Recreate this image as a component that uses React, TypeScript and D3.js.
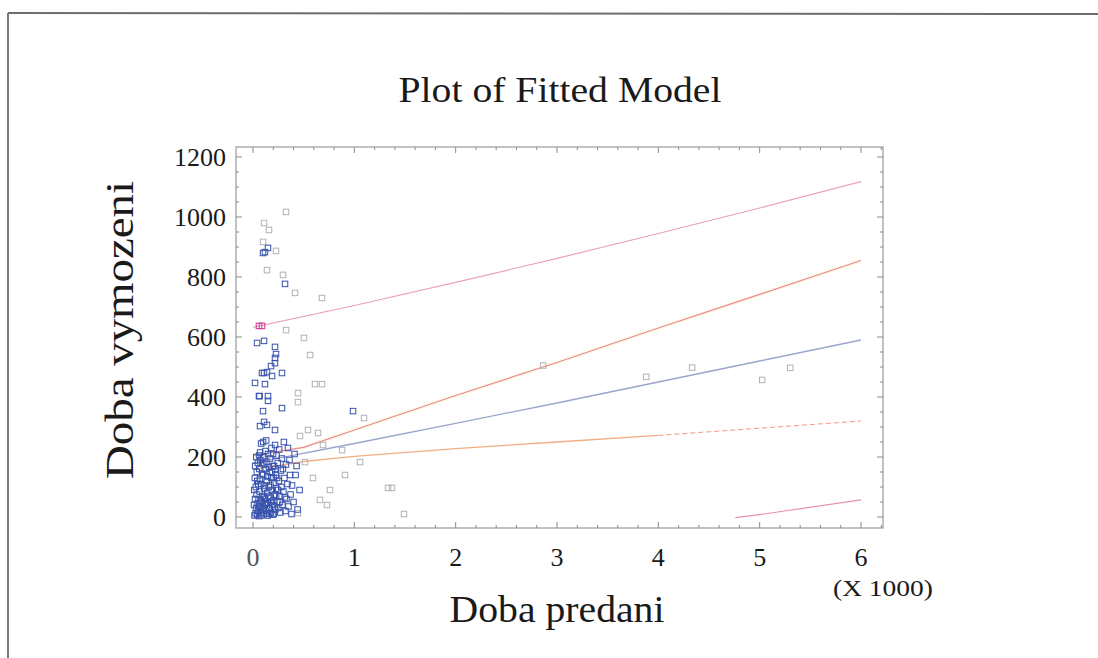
import React from "react";
import * as d3 from "d3";

// ---- data ----
const xTicks = [0, 1000, 2000, 3000, 4000, 5000, 6000];
const xTickLabels = ["0", "1", "2", "3", "4", "5", "6"];
const yTicks = [0, 200, 400, 600, 800, 1000, 1200];
const yTickLabels = ["0", "200", "400", "600", "800", "1000", "1200"];

// fitted line and limits: [Doba predani, Doba vymozeni]
const fitLine: [number, number][] = [[0, 180], [1000, 245], [2000, 312], [3000, 380], [4000, 450], [5000, 520], [6000, 590]];
const upperConf: [number, number][] = [[0, 205], [500, 232], [1000, 290], [2000, 405], [3000, 515], [4000, 630], [5000, 742], [6000, 855]];
const lowerConf: [number, number][] = [[0, 158], [500, 185], [1000, 202], [2000, 228], [3000, 250], [4000, 272], [5000, 296], [6000, 320]];
const upperPred: [number, number][] = [[0, 632], [1000, 705], [2000, 782], [3000, 862], [4000, 945], [5000, 1030], [6000, 1118]];
const lowerPred: [number, number][] = [[4760, -2], [5000, 8], [6000, 57]];

// clearly blue observations
const bluePoints: [number, number][] = [
  [40, 580], [109, 587], [217, 567], [227, 543], [217, 530], [217, 513], [178, 503],
  [89, 480], [109, 480], [138, 483], [188, 470], [286, 480], [20, 447], [118, 443],
  [59, 403], [65, 403], [148, 403], [148, 387], [99, 353], [286, 363], [987, 353],
  [109, 317], [69, 303], [138, 307], [217, 290], [148, 897], [99, 880], [118, 883], [316, 777],
  [15, 5], [25, 12], [30, 30], [40, 8], [45, 45], [50, 20], [55, 60], [60, 3], [65, 85], [70, 35],
  [75, 15], [80, 110], [85, 50], [90, 25], [95, 70], [100, 140], [105, 10], [110, 95], [115, 40],
  [120, 60], [125, 160], [130, 20], [135, 120], [140, 80], [145, 5], [150, 45], [155, 100], [160, 30],
  [165, 150], [170, 65], [175, 15], [180, 130], [185, 90], [190, 40], [195, 170], [200, 55], [205, 10],
  [210, 115], [215, 75], [220, 25], [225, 140], [230, 95], [240, 50], [245, 180], [250, 30], [255, 120],
  [260, 70], [270, 15], [275, 155], [280, 100], [290, 40], [300, 85], [310, 130], [320, 20], [330, 60],
  [340, 110], [350, 35], [360, 190], [370, 75], [380, 10], [400, 50], [420, 140], [440, 25], [460, 90],
  [10, 40], [12, 90], [18, 130], [20, 60], [22, 170], [28, 100], [32, 200], [35, 75], [38, 150], [42, 120],
  [48, 180], [52, 110], [58, 35], [62, 160], [68, 125], [72, 190], [78, 55], [82, 5], [88, 145], [92, 180],
  [98, 30], [102, 200], [108, 65], [112, 175], [118, 105], [122, 220], [128, 45], [132, 185], [138, 10],
  [142, 135], [148, 210], [152, 70], [158, 165], [162, 12], [168, 195], [172, 105], [178, 50], [182, 230],
  [188, 150], [192, 8], [198, 210], [202, 130], [208, 170], [212, 35], [218, 240], [222, 160], [228, 70],
  [232, 205], [238, 130], [248, 90], [258, 225], [265, 50], [285, 195], [295, 160], [305, 250], [315, 65],
  [325, 175], [345, 230], [365, 140], [385, 105], [410, 210], [430, 170],
  [60, 205], [70, 215], [100, 250], [80, 245], [130, 255],
];

// faint (grey-looking) observations
const greyPoints: [number, number][] = [
  [326, 1017], [109, 980], [158, 957], [227, 887], [99, 917], [138, 823], [296, 807], [415, 747],
  [681, 730], [326, 623], [503, 597], [563, 540], [612, 443], [681, 443], [444, 413], [444, 383],
  [1096, 330], [543, 290], [642, 280], [464, 270], [760, 90], [908, 140], [1056, 183], [592, 130],
  [661, 57], [444, 13], [1333, 97], [1372, 97], [1490, 10], [730, 40], [513, 183], [879, 223], [691, 240],
  [2863, 505], [3880, 467], [4334, 498], [5025, 457], [5301, 497],
];

// highlighted (magenta) observations
const magentaPoints: [number, number][] = [[59, 637], [89, 637]];

// ---- layout ----
const W = 1098;
const H = 658;
const frame = { left: 236, right: 883, top: 147, bottom: 528 };

export default function App() {
  const x = d3.scaleLinear().domain([0, 6000]).range([253, 861]);
  const y = d3.scaleLinear().domain([0, 1200]).range([517, 157]);
  const line = d3
    .line<[number, number]>()
    .x((d) => x(d[0]))
    .y((d) => y(d[1]));

  const xMinor = d3.range(0, 6201, 200);
  const yMinor = d3.range(0, 1201, 50);
  const tickColor = "#8c8c8c";

  const lowerConfSolid = lowerConf.filter((d) => d[0] <= 4000);
  const lowerConfDash = lowerConf.filter((d) => d[0] >= 4000);

  const sq = 5.5;

  return (
    <svg
      width={W}
      height={H}
      style={{ position: "absolute", left: 0, top: 0, background: "#fff" }}
      fontFamily="'Liberation Serif', 'Times New Roman', serif"
    >
      <defs>
        <clipPath id="plotClip">
          <rect x={frame.left} y={frame.top} width={frame.right - frame.left} height={frame.bottom - frame.top} />
        </clipPath>
      </defs>

      {/* outer border of the scanned page */}
      <line x1={8} y1={13} x2={W} y2={14} stroke="#6e6e6e" strokeWidth={2} />
      <line x1={8} y1={13} x2={8} y2={H} stroke="#7a7a7a" strokeWidth={2} />

      {/* title */}
      <text x={560} y={102} textAnchor="middle" fontSize={36} fill="#1a1a1a" textLength={323} lengthAdjust="spacingAndGlyphs">
        Plot of Fitted Model
      </text>

      {/* frame */}
      <rect
        x={frame.left}
        y={frame.top}
        width={frame.right - frame.left}
        height={frame.bottom - frame.top}
        fill="none"
        stroke="#9a9a9a"
        strokeWidth={1.2}
      />

      {/* ticks on all four sides, inward */}
      {xMinor.map((v) => {
        const major = v % 1000 === 0;
        const len = major ? 6 : 3;
        return (
          <g key={"xt" + v} stroke={tickColor} strokeWidth={1}>
            <line x1={x(v)} x2={x(v)} y1={frame.bottom} y2={frame.bottom - len} />
            <line x1={x(v)} x2={x(v)} y1={frame.top} y2={frame.top + len} />
          </g>
        );
      })}
      {yMinor.map((v) => {
        const major = v % 200 === 0;
        const len = major ? 6 : 3;
        return (
          <g key={"yt" + v} stroke={tickColor} strokeWidth={1}>
            <line x1={frame.left} x2={frame.left + len} y1={y(v)} y2={y(v)} />
            <line x1={frame.right} x2={frame.right - len} y1={y(v)} y2={y(v)} />
          </g>
        );
      })}

      {/* tick labels */}
      {xTicks.map((v, i) => (
        <text key={"xl" + v} x={x(v)} y={566} textAnchor="middle" fontSize={26} fill={i === 0 ? "#555" : "#1a1a1a"}>
          {xTickLabels[i]}
        </text>
      ))}
      {yTicks.map((v, i) => (
        <text key={"yl" + v} x={226} y={y(v) + 9} textAnchor="end" fontSize={26} fill="#1a1a1a">
          {yTickLabels[i]}
        </text>
      ))}
      <text x={883} y={596} textAnchor="middle" fontSize={24} fill="#1a1a1a" textLength={100} lengthAdjust="spacingAndGlyphs">
        (X 1000)
      </text>

      {/* axis titles */}
      <text x={557} y={622} textAnchor="middle" fontSize={38} fill="#1a1a1a" textLength={215} lengthAdjust="spacingAndGlyphs">
        Doba predani
      </text>
      <text
        transform={`translate(133,330) rotate(-90)`}
        textAnchor="middle"
        fontSize={40}
        fill="#1a1a1a"
        textLength={298}
        lengthAdjust="spacingAndGlyphs"
      >
        Doba vymozeni
      </text>

      <g clipPath="url(#plotClip)">
        {/* limits and fit */}
        <path d={line(upperConf) || ""} fill="none" stroke="#fdf6d2" strokeWidth={4} opacity={0.6} />
        <path d={line(upperPred) || ""} fill="none" stroke="#eaa3b7" strokeWidth={1.2} />
        <path d={line(upperConf) || ""} fill="none" stroke="#e7889c" strokeWidth={1.2} />
        <path d={line(fitLine) || ""} fill="none" stroke="#9aa5cc" strokeWidth={1.3} />
        <path d={line(lowerConfSolid) || ""} fill="none" stroke="#f2ad85" strokeWidth={1.3} />
        <path d={line(lowerConfDash) || ""} fill="none" stroke="#f19a86" strokeWidth={1} strokeDasharray="5,3" />
        <path d={line(lowerPred) || ""} fill="none" stroke="#e993a8" strokeWidth={1.2} />

        {/* observations */}
        {greyPoints.map((d, i) => (
          <rect
            key={"g" + i}
            x={x(d[0]) - sq / 2}
            y={y(d[1]) - sq / 2}
            width={sq}
            height={sq}
            fill="none"
            stroke="#b0b2ba"
            strokeWidth={1}
          />
        ))}
        {bluePoints.map((d, i) => (
          <rect
            key={"b" + i}
            x={x(d[0]) - sq / 2}
            y={y(d[1]) - sq / 2}
            width={sq}
            height={sq}
            fill="none"
            stroke="#3550ad"
            strokeWidth={1}
          />
        ))}
        {magentaPoints.map((d, i) => (
          <rect
            key={"m" + i}
            x={x(d[0]) - sq / 2}
            y={y(d[1]) - sq / 2}
            width={sq}
            height={sq}
            fill="none"
            stroke="#d0409a"
            strokeWidth={1.1}
          />
        ))}
      </g>
    </svg>
  );
}
